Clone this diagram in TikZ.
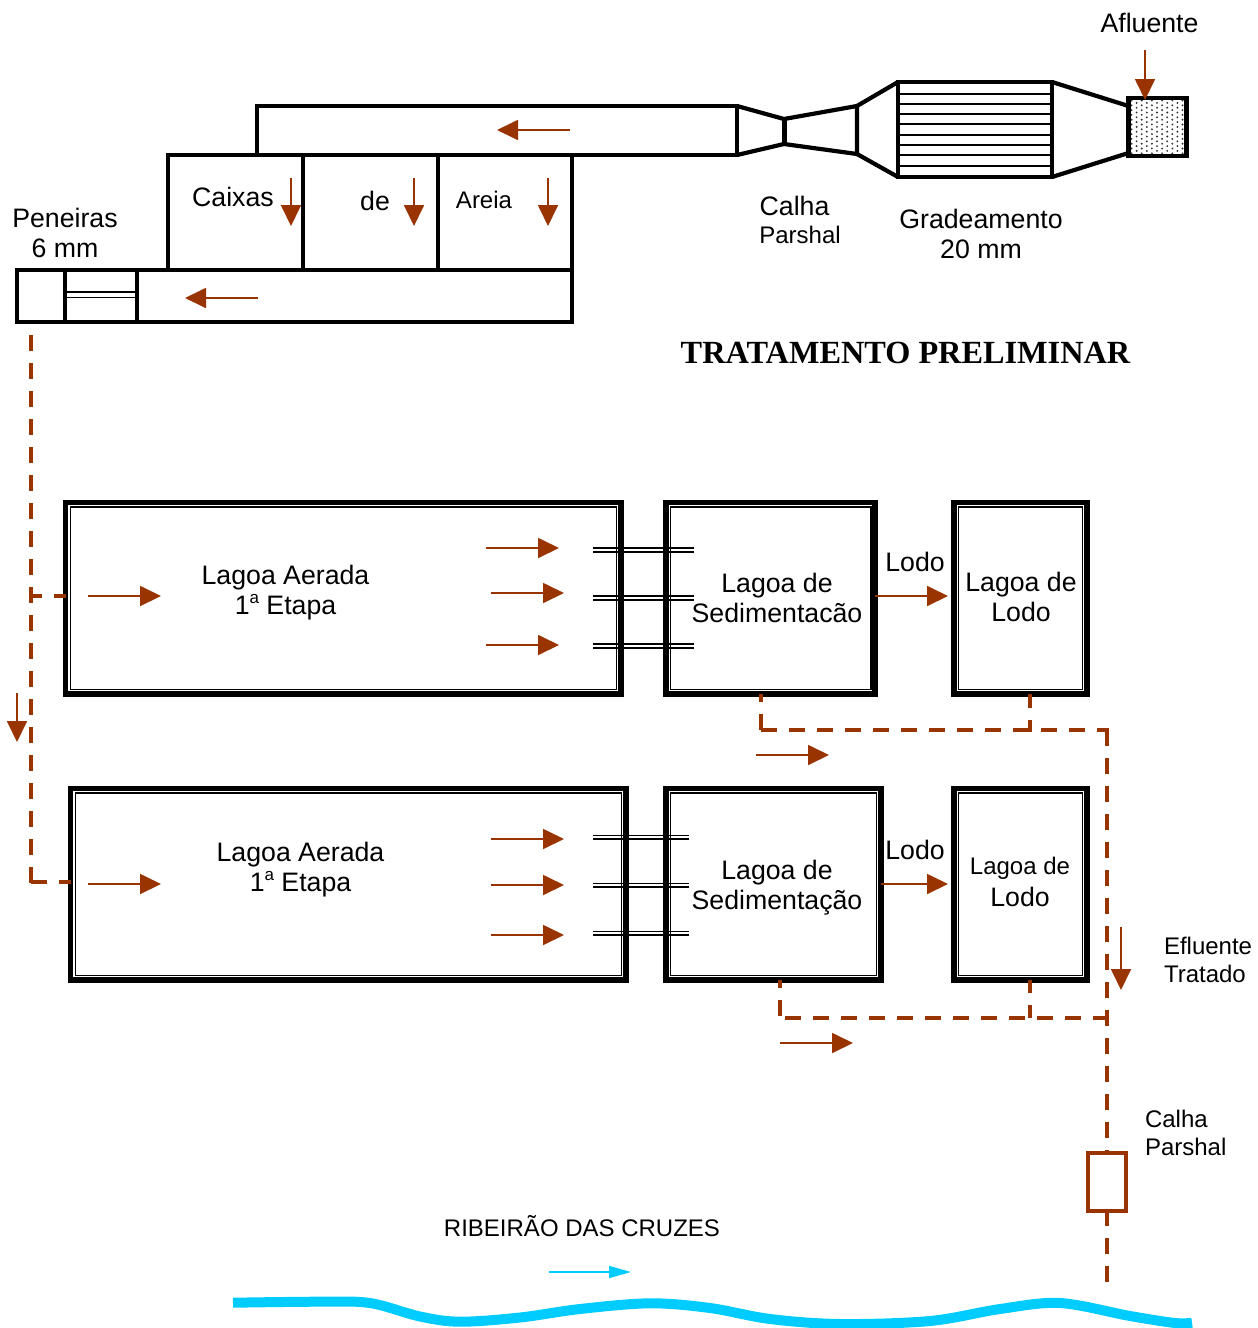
\documentclass[tikz,border=0pt]{standalone}
\usepackage{fontspec}
\setmainfont{Liberation Sans}
\newfontfamily\titlefont{Liberation Serif}
\usetikzlibrary{arrows.meta,fit}
\definecolor{flowbrown}{HTML}{993300}
\definecolor{rivercyan}{HTML}{00CCFF}
\tikzset{
  wall/.style={draw=black,line width=4.2pt,inner sep=0pt,outer sep=0pt,fill=none},
  wallline/.style={draw=black,line width=4.2pt,line cap=round,line join=miter},
  pondouter/.style={draw=black,line width=5.4pt,inner sep=0pt,outer sep=0pt},
  pondinner/.style={draw=black,line width=1.2pt,inner sep=0pt,outer sep=0pt},
  flow/.style={draw=flowbrown,line width=1.8pt,-{Triangle[length=21pt,width=20pt,fill=flowbrown]}},
  pipe/.style={draw=flowbrown,line width=3.8pt,dash pattern=on 16pt off 12pt},
  barline/.style={draw=black,line width=1.9pt},
  label/.style={inner sep=0pt,outer sep=0pt,align=center,font=\fontsize{26.7}{30.5}\selectfont},
  smalllabel/.style={inner sep=0pt,outer sep=0pt,align=center,font=\fontsize{24}{28}\selectfont},
}
\newcommand{\rectnode}[4]{\node[#1,fit={(#3) (#4)}] (#2) {};}
\newcommand{\supa}{\raisebox{0.42em}{\fontsize{17}{17}\selectfont a}}
\begin{document}
\begin{tikzpicture}[x=1pt,y=-1pt]
\useasboundingbox (0,0) rectangle (1258,1328);

% Preliminary treatment
\rectnode{wall}{tube}{257,106}{737,155}
\rectnode{wall}{caixa}{168,155}{303,270}
\rectnode{wall}{de}{303,155}{438,270}
\rectnode{wall}{areia}{438,155}{572,270}
\rectnode{wall}{canal}{17,270}{572,322}
\rectnode{wall}{peneira}{65,270}{137,322}
\draw[barline] (peneira.west |- 0,292) -- (peneira.east |- 0,292);
\draw[barline] (peneira.west |- 0,297.5) -- (peneira.east |- 0,297.5);

\rectnode{wall}{grade}{898,82}{1052,177}
\foreach \yy in {94,104,114,124,135,145,155,166}{
  \draw[barline] (grade.west |- 0,\yy) -- (grade.east |- 0,\yy);
}
\begin{scope}
\clip (1128,98) rectangle (1187,156);
\foreach \cc in {0,...,11}{
  \pgfmathsetmacro{\xx}{1131.5+5.1*\cc}
  \pgfmathsetmacro{\oo}{mod(\cc,2)*2.4}
  \foreach \rr in {0,...,11}{
    \fill[black!80] (\xx,100.5+\oo+4.8*\rr) circle (1.05pt);
  }
}
\end{scope}
\rectnode{wall}{screen}{1128.5,98}{1186.5,156}

\coordinate (pa) at (784,119);
\coordinate (pb) at (784,144);
\coordinate (pc) at (857,106);
\coordinate (pd) at (857,154);
\draw[wallline,line width=5pt,line cap=butt] (pa) -- (pb);
\draw[wallline] (tube.north east) -- (pa) -- (pc) -- (pd) -- (pb) -- (tube.south east);
\draw[wallline] (pc) -- (grade.north west);
\draw[wallline] (pd) -- (grade.south west);
\coordinate (sa1) at (1128.5,106);
\coordinate (sa2) at (1128.5,153);
\draw[wallline] (grade.north east) -- (sa1);
\draw[wallline] (grade.south east) -- (sa2);

% Ponds row 1
\rectnode{pondouter}{aa}{65.5,502.3}{621,694}
\rectnode{pondinner}{aai}{70.5,507}{616.5,689.5}
\rectnode{pondouter}{sa}{666,502.3}{875,694}
\rectnode{pondinner}{sai}{670.5,507}{871,689.5}
\rectnode{pondouter}{la}{954,502.3}{1087,694}
\rectnode{pondinner}{lai}{958.5,507}{1082.5,689.5}
% Ponds row 2
\rectnode{pondouter}{ab}{70.5,788.5}{626,980}
\rectnode{pondinner}{abi}{75.2,793}{621.5,975.5}
\rectnode{pondouter}{sb}{666,788.5}{881,980}
\rectnode{pondinner}{sbi}{670.5,793}{876.5,975.5}
\rectnode{pondouter}{lb}{954,788.5}{1087,980}
\rectnode{pondinner}{lbi}{958.5,793}{1082.5,975.5}

% Connecting pipes between ponds
\foreach \yy in {548.3,596,644.2}{
  \draw[barline] (593,\yy) -- (693.5,\yy);
  \draw[barline] (593,\yy+3.6) -- (693.5,\yy+3.6);
}
\foreach \yy in {835.5,883.5,931.5}{
  \draw[barline] (593,\yy) -- (689,\yy);
  \draw[barline] (593,\yy+3.6) -- (689,\yy+3.6);
}

% Calha Parshal at the outfall
\node[draw=flowbrown,line width=3.6pt,fill=white,inner sep=0pt,outer sep=0pt,fit={(1088,1153) (1126,1211)}] (parshal) {};

% Dashed lines
\coordinate (ds) at (31,335);
\coordinate (dk) at (31,882);
\coordinate (dj) at (31,596);
\coordinate (m1) at (761,730);
\coordinate (m2) at (1030,730);
\coordinate (m3) at (1107,730);
\coordinate (n1) at (780,1018);
\coordinate (n2) at (1030,1018);
\coordinate (n3) at (1107,1018);
\coordinate (riverend) at (1107,1282);
\draw[pipe,shorten >=-1.9pt] (ds) -- (dk);
\draw[pipe] (dk) -- (ab.west |- dk);
\draw[pipe,dash phase=5pt] (dj) -- (aa.west |- dj);
\draw[pipe,dash phase=8pt,shorten >=-1.9pt] (sa.south -| m1) -- (m1);
\draw[pipe,shorten >=-1.9pt] (m1) -- (m3);
\draw[pipe] (m3) -- (parshal.north -| m3);
\draw[pipe,dash phase=1pt] (parshal.south -| m3) -- (riverend);
\draw[pipe,dash phase=2pt,shorten >=-1.9pt] (la.south -| m2) -- (m2);
\draw[pipe,dash phase=8pt] (sb.south -| n1) -- (n1);
\draw[pipe,dash phase=23pt] (n1) -- (n3);
\draw[pipe,dash phase=3pt] (lb.south -| n2) -- (n2);

% Flow arrows
\draw[flow] (1145,50) -- (1145,100);
\draw[flow] (570,130) -- (497,130);
\draw[flow] (291,178) -- (291,226);
\draw[flow] (414,178) -- (414,226);
\draw[flow] (548,178) -- (548,226);
\draw[flow] (258,298) -- (185,298);
\draw[flow] (88,596) -- (161,596);
\draw[flow] (486,548) -- (559,548);
\draw[flow] (491,593) -- (564,593);
\draw[flow] (486,645) -- (559,645);
\draw[flow] (sa.east |- 0,596) -- (948,596);
\draw[flow] (756,755) -- (829,755);
\draw[flow] (17,693) -- (17,742);
\draw[flow] (88,884) -- (161,884);
\draw[flow] (491,839) -- (564,839);
\draw[flow] (491,885) -- (564,885);
\draw[flow] (491,935) -- (564,935);
\draw[flow] (sb.east |- 0,884) -- (948,884);
\draw[flow] (780,1043) -- (853,1043);
\draw[flow] (1121,927) -- (1121,990);

% River
\draw[draw=rivercyan,line width=10pt] plot[smooth,tension=0.55] coordinates {(233,1302.7) (320,1301.7) (370,1303) (420,1316.5) (460,1321.7) (520,1317.5) (580,1309) (650,1303.3) (710,1308) (770,1319) (840,1324) (930,1321) (1000,1309) (1060,1303) (1130,1316) (1175,1323) (1192,1322.7)};
\draw[draw=rivercyan,line width=2pt,-{Triangle[length=22pt,width=12pt,fill=rivercyan]}] (549,1272) -- (631,1272);

% Labels
\node[label] (tafl) at (1149.5,23) {Afluente};
\node[label] (tcal) at (794.5,206) {Calha};
\node[smalllabel] (tpar) at (800,235) {Parshal};
\node[label] (tgra) at (981,234) {Gradeamento\\20 mm};
\node[label] (tpen) at (65,233) {Peneiras\\6 mm};
\node[label] (tcai) at (233,197) {Caixas};
\node[label] (tde) at (375,201) {de};
\node[smalllabel] (tare) at (484,200) {Areia};
\node[inner sep=0pt,font=\titlefont\bfseries\fontsize{32.3}{36}\selectfont] (ttit) at (905.5,353) {TRATAMENTO PRELIMINAR};

\node[label] (t1) at (285.5,592.5) {Lagoa Aerada\\1\supa\ Etapa};
\node[label] (t2) at (777,598) {Lagoa de\\Sedimentacão};
\node[label] (t3) at (915,562) {Lodo};
\node[label] (t4) at (1021,597) {Lagoa de\\Lodo};
\node[label] (t5) at (300.5,869.5) {Lagoa Aerada\\1\supa\ Etapa};
\node[label] (t6) at (777,887.5) {Lagoa de\\Sedimentação};
\node[label] (t7) at (915,850) {Lodo};
\node[label,font=\fontsize{24}{30}\selectfont] (t8a) at (1020,868) {Lagoa de};
\node[label] (t8b) at (1020,897) {Lodo};
\node[smalllabel,align=left,anchor=west] (t9) at (1164,960) {Efluente\\Tratado};
\node[smalllabel,align=left,anchor=west] (t10) at (1145,1133) {Calha\\Parshal};
\node[smalllabel] (t11) at (582,1226) {RIBEIRÃO DAS CRUZES};
\end{tikzpicture}
\end{document}
